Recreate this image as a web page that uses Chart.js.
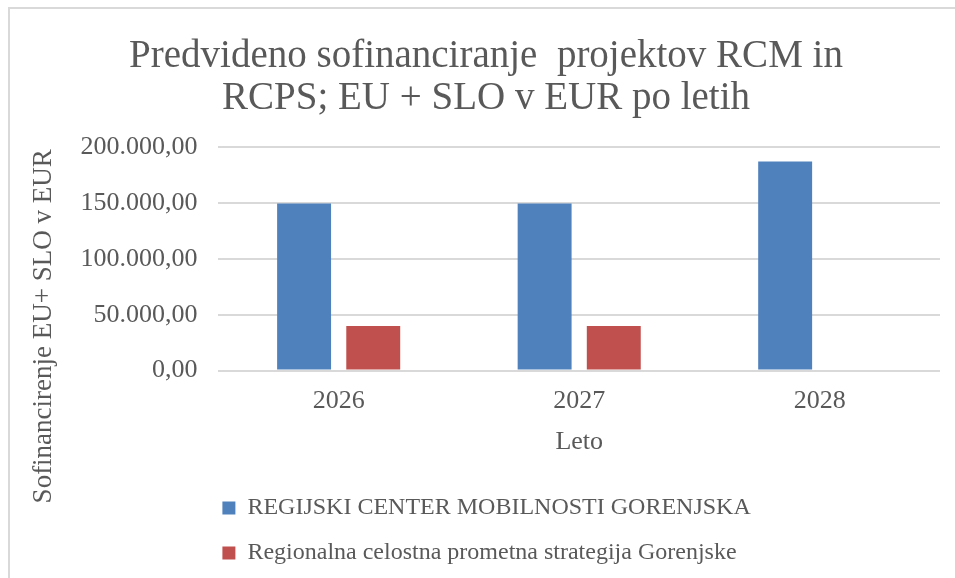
<!DOCTYPE html>
<html>
<head>
<meta charset="utf-8">
<script src="https://cdn.jsdelivr.net/npm/chart.js@4.4.0/dist/chart.umd.min.js"></script>
<style>
  html, body { margin: 0; padding: 0; background: #fff; }
  #frame { position: absolute; left: 8px; top: 7px; width: 960px; height: 580px;
           border-left: 2px solid #d9d9d9; border-top: 2px solid #d9d9d9; }
  #wrap { position: absolute; left: 0; top: 0; width: 955px; height: 578px; }
</style>
</head>
<body>
<div id="frame"></div>
<div id="wrap"><canvas id="chart"></canvas></div>
<script>
var years = ['2026', '2027', '2028'];
var rcmValues = [149500, 149500, 187000];
var rcpsValues = [40000, 40000, null];
var seriesNames = ['REGIJSKI CENTER MOBILNOSTI GORENJSKA', 'Regionalna celostna prometna strategija Gorenjske'];
var yTicks = [0, 50000, 100000, 150000, 200000];
var titleLines = ['Predvideno sofinanciranje  projektov RCM in', 'RCPS; EU + SLO v EUR po letih'];
var yTitle = 'Sofinancirenje EU+ SLO v EUR';
var xTitle = 'Leto';

var textColor = '#595959';
var fontFamily = "'Liberation Serif', 'DejaVu Serif', serif";

// 200000 -> "200.000,00"
function fmt(v) {
    var s = Math.round(v).toString();
    var out = '';
    for (var i = 0; i < s.length; i++) {
        if (i > 0 && (s.length - i) % 3 === 0) {
            out += '.';
        }
        out += s[i];
    }
    return out + ',00';
}

// excel puts the legend flush under the plot, a bit left of chart.js's padding
var legendShift = {
    id: 'legendShift',
    afterLayout: function(chart) {
        var lg = chart.legend;
        var w = lg.right - lg.left;
        lg.left = chart.chartArea.left - 17;
        lg.right = lg.left + w;
    }
};

var ctx = document.getElementById('chart').getContext('2d');
var chart = new Chart(ctx, {
    type: 'bar',
    data: {
        labels: years,
        datasets: [{
            label: seriesNames[0],
            data: rcmValues,
            backgroundColor: '#4F81BD',
            categoryPercentage: 0.575,
            barPercentage: 0.78
        }, {
            label: seriesNames[1],
            data: rcpsValues,
            backgroundColor: '#C0504D',
            categoryPercentage: 0.575,
            barPercentage: 0.78
        }]
    },
    options: {
        responsive: true,
        maintainAspectRatio: false,
        animation: false,
        layout: { padding: { left: 32, right: 15, top: 0, bottom: 3 } },
        plugins: {
            title: {
                display: true,
                text: titleLines,
                color: textColor,
                font: { family: fontFamily, size: 39, weight: 'normal', lineHeight: 1.077 },
                padding: { top: 36, bottom: 27 }
            },
            legend: {
                position: 'bottom',
                align: 'start',
                fullSize: false,
                labels: {
                    color: textColor,
                    font: { family: fontFamily, size: 24 },
                    boxWidth: 13,
                    boxHeight: 13,
                    padding: 21
                }
            },
            tooltip: { enabled: false }
        },
        scales: {
            x: {
                grid: { display: false, drawTicks: false },
                border: { display: false },
                ticks: {
                    color: textColor,
                    font: { family: fontFamily, size: 26 },
                    padding: 15
                },
                title: {
                    display: true,
                    text: xTitle,
                    color: textColor,
                    font: { family: fontFamily, size: 26 },
                    padding: { top: -5, bottom: 17 }
                }
            },
            y: {
                min: 0,
                max: 200000,
                afterBuildTicks: function(scale) {
                    scale.ticks = yTicks.map(function(v) { return { value: v }; });
                },
                grid: { color: '#D9D9D9', lineWidth: 2, drawTicks: false },
                border: { display: false },
                ticks: {
                    color: textColor,
                    font: { family: fontFamily, size: 26 },
                    padding: 21,
                    callback: function(v) { return fmt(v); }
                },
                title: {
                    display: true,
                    // trailing spaces push the text down, excel centres it lower than the plot
                    text: yTitle + '                    ',
                    color: textColor,
                    font: { family: fontFamily, size: 27 },
                    padding: { top: -4, bottom: -1 }
                }
            }
        }
    },
    plugins: [legendShift]
});
</script>
</body>
</html>
